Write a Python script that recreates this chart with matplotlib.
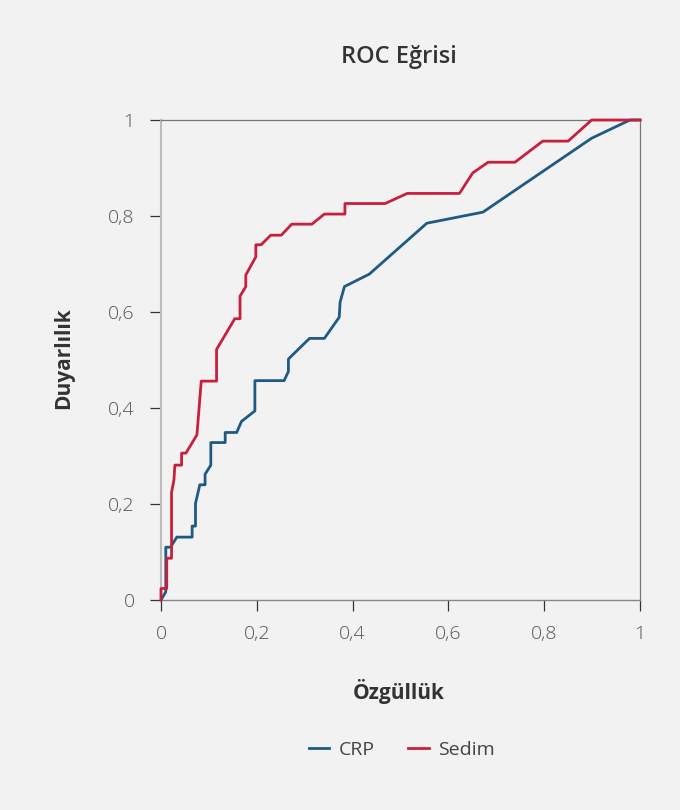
import matplotlib
matplotlib.use('Agg')
import matplotlib.pyplot as plt
from matplotlib.ticker import FuncFormatter

plt.rcParams['font.family'] = ['Open Sans', 'DejaVu Sans']

# ROC points (1 - specificity, sensitivity)
crp_x = [0, 0.010, 0.010, 0.020, 0.033, 0.065, 0.065, 0.072, 0.072, 0.081, 0.092, 0.092,
         0.104, 0.104, 0.134, 0.134, 0.158, 0.168, 0.196, 0.196, 0.257, 0.266, 0.266,
         0.310, 0.341, 0.372, 0.374, 0.383, 0.435, 0.555, 0.672, 0.899, 0.979, 1.0]
crp_y = [0, 0.017, 0.110, 0.110, 0.131, 0.131, 0.154, 0.154, 0.201, 0.240, 0.240, 0.262,
         0.281, 0.328, 0.328, 0.349, 0.349, 0.372, 0.394, 0.457, 0.457, 0.476, 0.502,
         0.545, 0.545, 0.589, 0.621, 0.653, 0.679, 0.785, 0.808, 0.962, 1.0, 1.0]

sedim_x = [0, 0, 0.012, 0.012, 0.022, 0.022, 0.027, 0.029, 0.043, 0.043, 0.052, 0.075,
           0.084, 0.116, 0.116, 0.154, 0.165, 0.165, 0.177, 0.177, 0.198, 0.198, 0.209,
           0.229, 0.251, 0.273, 0.315, 0.341, 0.384, 0.384, 0.468, 0.514, 0.623, 0.651,
           0.683, 0.739, 0.797, 0.850, 0.899, 1.0]
sedim_y = [0, 0.024, 0.024, 0.087, 0.087, 0.224, 0.250, 0.281, 0.281, 0.306, 0.306, 0.344,
           0.456, 0.456, 0.522, 0.586, 0.586, 0.633, 0.653, 0.677, 0.715, 0.740, 0.740,
           0.760, 0.760, 0.783, 0.783, 0.804, 0.804, 0.826, 0.826, 0.847, 0.847, 0.890,
           0.912, 0.912, 0.956, 0.956, 1.0, 1.0]

ticks = [0, 0.2, 0.4, 0.6, 0.8, 1]

bg = '#f2f2f2'
blue = '#1e5a84'
red = '#c8203c'

fig = plt.figure(figsize=(6.8, 8.1), dpi=100, facecolor=bg)
ax = fig.add_axes([161/680, 1 - 600/810, 479/680, 480/810], facecolor=bg)

ax.plot(crp_x, crp_y, color=blue, lw=2.0, label='CRP', clip_on=False, zorder=3)
ax.plot(sedim_x, sedim_y, color=red, lw=2.0, label='Sedim', clip_on=False, zorder=3)

ax.set_xlim(0, 1)
ax.set_ylim(0, 1)
ax.set_xticks(ticks)
ax.set_yticks(ticks)
fmt = FuncFormatter(lambda v, p: ('%g' % v).replace('.', ','))
ax.xaxis.set_major_formatter(fmt)
ax.yaxis.set_major_formatter(fmt)
ax.tick_params(axis='both', direction='out', length=8, width=0.9, color='#333333',
               labelsize=14, labelcolor='#555555')
ax.tick_params(axis='y', pad=11)
ax.tick_params(axis='x', pad=10)
for lbl in ax.get_xticklabels() + ax.get_yticklabels():
    lbl.set_fontweight('light')

ax.spines['top'].set_color('#777777')
ax.spines['top'].set_linewidth(0.9)
ax.spines['right'].set_color('#777777')
ax.spines['right'].set_linewidth(0.9)
ax.spines['bottom'].set_color('#888888')
ax.spines['bottom'].set_linewidth(1.0)
ax.spines['left'].set_color('#bbbbbb')
ax.spines['left'].set_linewidth(1.5)

fig.text(399 / 680, 1 - 57 / 810, 'ROC Eğrisi', ha='center', va='center',
         fontsize=17, fontweight='semibold', color='#333333')
fig.text(399 / 680, 1 - 691 / 810, 'Özgüllük', ha='center', va='center',
         fontsize=15, fontweight='bold', color='#333333')
fig.text(64 / 680, 1 - 358 / 810, 'Duyarlılık', ha='center', va='center', rotation=90,
         fontsize=15, fontweight='bold', color='#333333')

leg = fig.legend(loc='center', bbox_to_anchor=(402 / 680, 1 - 750 / 810), ncol=2,
                 frameon=False, fontsize=14, handlelength=1.05, columnspacing=1.7,
                 handletextpad=0.5)
for t in leg.get_texts():
    t.set_color('#444444')

fig.savefig('out.png', dpi=100, facecolor=bg)
